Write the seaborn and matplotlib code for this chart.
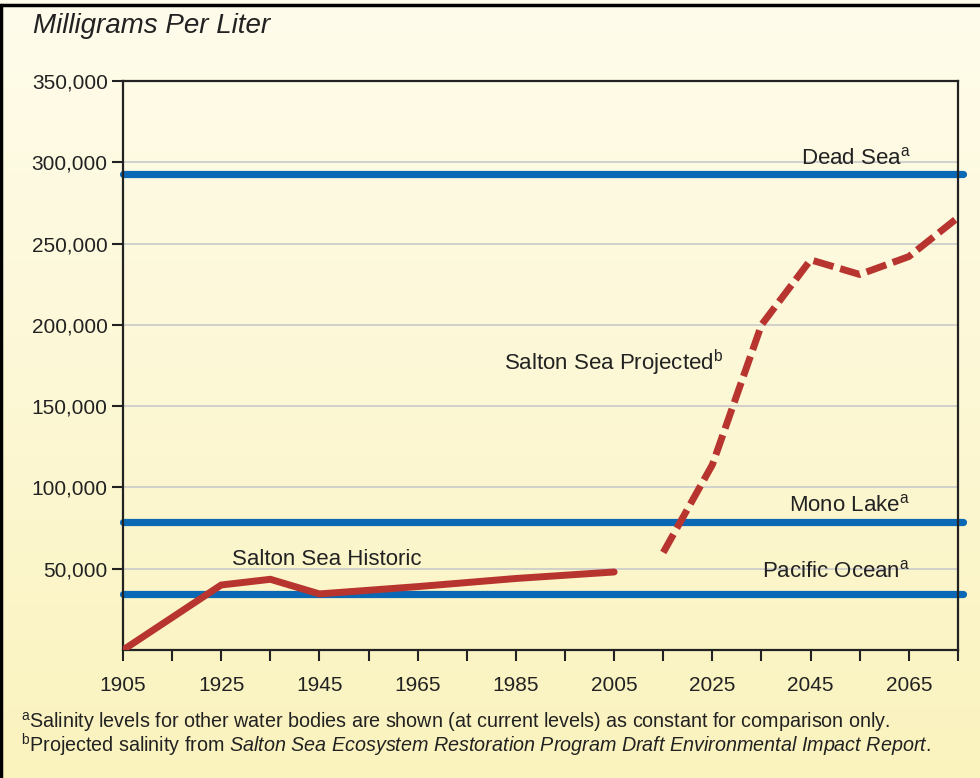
import numpy as np
import pandas as pd
import seaborn as sns
import matplotlib.pyplot as plt

# Salton Sea salinity, mg/L
hist_years = [1905, 1925, 1935, 1945, 1965, 1985, 2005]
hist_vals = [0, 40000, 43500, 34500, 39000, 44000, 48000]
proj_years = [2015, 2025, 2035, 2045, 2055, 2065, 2075]
proj_vals = [60000, 114000, 200000, 240000, 231000, 242000, 266000]

ref_names = ["Dead Sea", "Mono Lake", "Pacific Ocean"]
ref_vals = [293000, 78500, 34500]

x_ticks = list(range(1905, 2076, 10))
x_labels = [str(y) if (y - 1905) % 20 == 0 else "" for y in x_ticks]
y_ticks = [50000, 100000, 150000, 200000, 250000, 300000, 350000]

sns.set_theme(style="ticks")
plt.rcParams['font.family'] = ['Liberation Sans', 'DejaVu Sans']
plt.rcParams['mathtext.fontset'] = 'custom'
plt.rcParams['mathtext.rm'] = 'Liberation Sans'
plt.rcParams['mathtext.it'] = 'Liberation Sans:italic'

fig = plt.figure(figsize=(9.8, 7.78), dpi=100)

# cream-to-yellow gradient background
bg = fig.add_axes([0, 0, 1, 1], zorder=-10)
top_c = np.array([255, 252, 236]) / 255
bot_c = np.array([250, 243, 190]) / 255
t = np.linspace(0, 1, 256)[:, None]
grad = top_c * (1 - t) + bot_c * t
bg.imshow(grad[:, None, :], aspect='auto', extent=[0, 1, 0, 1])
bg.plot([0, 1], [0.9935, 0.9935], color='black', lw=2.5, transform=bg.transAxes)
bg.plot([0.0015, 0.0015], [0, 0.9935], color='black', lw=2.5, transform=bg.transAxes)
bg.set_xlim(0, 1)
bg.set_ylim(0, 1)
bg.axis('off')

ax = fig.add_axes([0.1255, 0.1645, 0.852, 0.7314])
ax.set_facecolor('none')

for v in y_ticks:
    ax.axhline(v, color='#c9c9c9', lw=1.2, zorder=1)

for v in ref_vals:
    ax.axhline(v, color='#0b68b4', lw=5.2, zorder=2, xmax=1.006, clip_on=False)

hist = pd.DataFrame({"year": hist_years, "val": hist_vals})
proj = pd.DataFrame({"year": proj_years, "val": proj_vals})
sns.lineplot(data=hist, x="year", y="val", ax=ax, color='#b8352f', lw=5,
             zorder=3, solid_joinstyle='miter')
l2 = sns.lineplot(data=proj, x="year", y="val", ax=ax, color='#b8352f', lw=5,
                  zorder=3).lines[-1]
l2.set_dashes((3.0, 1.0))
l2.set_dash_capstyle('butt')

ax.set_xlim(1905, 2075)
ax.set_ylim(0, 350000)
ax.set_xticks(x_ticks)
ax.set_xticklabels(x_labels)
ax.set_yticks(y_ticks)
ax.set_yticklabels([f"{v:,}" for v in y_ticks])
ax.tick_params(axis='both', direction='out', length=8, width=1.5,
               colors='#222222', labelsize=15, pad=3)
ax.tick_params(axis='x', pad=11)
for s in ax.spines.values():
    s.set_color('#222222')
    s.set_linewidth(1.6)
ax.set_xlabel("")
ax.set_ylabel("")

lab = dict(fontsize=16, color='#222222', zorder=4, va='baseline')
ax.text(2065.3, 299000, r"Dead Sea$^\mathregular{a}$", ha='right', **lab)
ax.text(2065.3, 85000, r"Mono Lake$^\mathregular{a}$", ha='right', **lab)
ax.text(2065.3, 44500, r"Pacific Ocean$^\mathregular{a}$", ha='right', **lab)
ax.text(2027.3, 172000, r"Salton Sea Projected$^\mathregular{b}$", ha='right', **lab)
ax.text(1927.2, 52500, "Salton Sea Historic", ha='left', **lab)

fig.text(0.034, 0.966, "Milligrams Per Liter", fontsize=20, style='italic',
         color='#222222', va='center')
fig.text(0.021, 0.072, r"$^\mathregular{a}$Salinity levels for other water bodies are shown "
         "(at current levels) as constant for comparison only.",
         fontsize=14.2, color='#222222', va='center')
fig.text(0.021, 0.042, r"$^\mathregular{b}$Projected salinity from "
         r"$\mathit{Salton\ Sea\ Ecosystem\ Restoration\ Program\ Draft\ Environmental\ Impact\ Report.}$",
         fontsize=14.2, color='#222222', va='center')

fig.savefig("out.png", dpi=100)
